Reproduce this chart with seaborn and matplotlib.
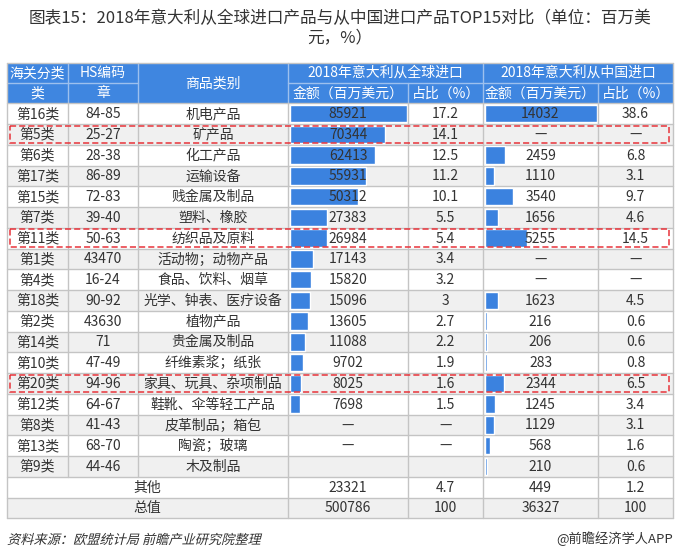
import numpy as np
import pandas as pd
import matplotlib
matplotlib.use("Agg")
import matplotlib.pyplot as plt
from matplotlib.patches import Rectangle, PathPatch
from matplotlib.textpath import TextPath
from matplotlib.font_manager import FontProperties
from matplotlib.transforms import Affine2D, IdentityTransform
import seaborn as sns

sns.set_theme(style="white")
plt.rcParams["font.family"] = ["Noto Sans CJK SC", "DejaVu Sans"]

sections = ["第16类", "第5类", "第6类", "第17类", "第15类", "第7类", "第11类", "第1类", "第4类",
            "第18类", "第2类", "第14类", "第10类", "第20类", "第12类", "第8类", "第13类", "第9类"]
hs_codes = ["84-85", "25-27", "28-38", "86-89", "72-83", "39-40", "50-63", "43470", "16-24",
            "90-92", "43630", "71", "47-49", "94-96", "64-67", "41-43", "68-70", "44-46"]
products = ["机电产品", "矿产品", "化工产品", "运输设备", "贱金属及制品", "塑料、橡胶", "纺织品及原料",
            "活动物；动物产品", "食品、饮料、烟草", "光学、钟表、医疗设备", "植物产品", "贵金属及制品",
            "纤维素浆；纸张", "家具、玩具、杂项制品", "鞋靴、伞等轻工产品", "皮革制品；箱包", "陶瓷；玻璃", "木及制品"]
world_value = [85921, 70344, 62413, 55931, 50312, 27383, 26984, 17143, 15820,
               15096, 13605, 11088, 9702, 8025, 7698, np.nan, np.nan, np.nan]
world_share = ["17.2", "14.1", "12.5", "11.2", "10.1", "5.5", "5.4", "3.4", "3.2",
               "3", "2.7", "2.2", "1.9", "1.6", "1.5", "—", "—", ""]
world_value_text = ["85921", "70344", "62413", "55931", "50312", "27383", "26984", "17143", "15820",
                    "15096", "13605", "11088", "9702", "8025", "7698", "—", "—", ""]
china_value = [14032, np.nan, 2459, 1110, 3540, 1656, 5255, np.nan, np.nan,
               1623, 216, 206, 283, 2344, 1245, 1129, 568, 210]
china_value_text = ["14032", "—", "2459", "1110", "3540", "1656", "5255", "—", "—",
                    "1623", "216", "206", "283", "2344", "1245", "1129", "568", "210"]
china_share = ["38.6", "—", "6.8", "3.1", "9.7", "4.6", "14.5", "—", "—",
               "4.5", "0.6", "0.6", "0.8", "6.5", "3.4", "3.1", "1.6", "0.6"]
other_row = ["其他", "23321", "4.7", "449", "1.2"]
total_row = ["总值", "500786", "100", "36327", "100"]
highlight = ["第5类", "第11类", "第20类"]

# ---- layout (pixel grid) ----
W, H = 680, 560
col_x = [7, 68, 138, 288, 408, 483, 598, 673]
head_top, head_mid, data_top = 62.7, 83.3, 103.3
row_h = 20.75
n_rows = len(sections) + 2
table_bottom = data_top + n_rows * row_h

blue = "#3F86E0"
bar_blue = "#3B82DF"
grid = "#C4C4C4"
txt = "#333333"
fs = 10

fig = plt.figure(figsize=(W / 100, H / 100), dpi=100)

bg = fig.add_axes([0, 0, 1, 1], zorder=0)
bg.set_xlim(0, W)
bg.set_ylim(H, 0)
bg.axis("off")

# header background
bg.add_patch(Rectangle((col_x[0], head_top), col_x[-1] - col_x[0], data_top - head_top,
                       facecolor=blue, edgecolor="none"))
# row stripes
for i in range(n_rows):
    y0 = data_top + i * row_h
    fc = "#FFFFFF" if i % 2 == 0 else "#F0F0F0"
    bg.add_patch(Rectangle((col_x[0], y0), col_x[-1] - col_x[0], row_h, facecolor=fc, edgecolor="none"))

# header lines
hl = "#9DC0EE"
bg.plot([col_x[0], col_x[2]], [head_mid, head_mid], color=hl, lw=1)
bg.plot([col_x[3], col_x[-1]], [head_mid, head_mid], color=hl, lw=1)
for cx in col_x[1:-1]:
    if cx in (col_x[4], col_x[6]):
        bg.plot([cx, cx], [head_mid, data_top], color=hl, lw=1)
    else:
        bg.plot([cx, cx], [head_top, data_top], color=hl, lw=1)

# body lines
for i in range(n_rows + 1):
    y = data_top + i * row_h
    bg.plot([col_x[0], col_x[-1]], [y, y], color=grid, lw=1)
for cx in col_x[1:3]:
    bg.plot([cx, cx], [data_top, data_top + len(sections) * row_h], color=grid, lw=1)
for cx in col_x[3:-1]:
    bg.plot([cx, cx], [data_top, table_bottom], color=grid, lw=1)
bg.plot([col_x[0], col_x[-1]], [head_top, head_top], color=grid, lw=1)
for cx in (col_x[0], col_x[-1]):
    bg.plot([cx, cx], [head_top, table_bottom], color=grid, lw=1)

# ---- data bars through seaborn ----
bars_df = pd.DataFrame({"section": sections, "world": world_value, "china": china_value})
body_bottom = data_top + len(sections) * row_h


def bar_axes(x0, x1, col, vmax):
    a = fig.add_axes([x0 / W, 1 - body_bottom / H, (x1 - x0) / W, (body_bottom - data_top) / H], zorder=1)
    sub = bars_df.dropna(subset=[col])
    sns.barplot(data=sub, x=col, y="section", order=sections, orient="h",
                color=bar_blue, saturation=1, width=0.84, ax=a)
    a.set_xlim(0, vmax)
    a.set_ylim(len(sections) - 0.5, -0.5)
    a.axis("off")
    a.patch.set_alpha(0)
    return a


bar_axes(290, 406.5, "world", bars_df["world"].max())
bar_axes(485, 596.5, "china", bars_df["china"].max())

# ---- text overlay ----
top = fig.add_axes([0, 0, 1, 1], zorder=2)
top.set_xlim(0, W)
top.set_ylim(H, 0)
top.axis("off")
top.patch.set_alpha(0)


def cx(a, b):
    return (col_x[a] + col_x[b]) / 2


# title
top.text(W / 2, 19, "图表15：2018年意大利从全球进口产品与从中国进口产品TOP15对比（单位：百万美",
         ha="center", va="center", fontsize=12, color=txt)
top.text(W / 2, 38, "元，%）", ha="center", va="center", fontsize=12, color=txt)

# header text
r1 = (head_top + head_mid) / 2
r2 = (head_mid + data_top) / 2
hkw = dict(ha="center", va="center", fontsize=fs, color="white")
top.text(cx(0, 1), r1, "海关分类", **hkw)
top.text(cx(0, 1), r2, "类", **hkw)
top.text(cx(1, 2), r1, "HS编码", **hkw)
top.text(cx(1, 2), r2, "章", **hkw)
top.text(cx(2, 3), (head_top + data_top) / 2, "商品类别", **hkw)
top.text(cx(3, 5), r1, "2018年意大利从全球进口", **hkw)
top.text(cx(5, 7), r1, "2018年意大利从中国进口", **hkw)
top.text(cx(3, 4), r2, "金额（百万美元）", **hkw)
top.text(cx(4, 5), r2, "占比（%）", **hkw)
top.text(cx(5, 6), r2, "金额（百万美元）", **hkw)
top.text(cx(6, 7), r2, "占比（%）", **hkw)

# body text
bkw = dict(ha="center", va="center", fontsize=fs, color=txt)
for i in range(len(sections)):
    yc = data_top + (i + 0.5) * row_h + 0.5
    top.text(cx(0, 1), yc, sections[i], **bkw)
    top.text(cx(1, 2), yc, hs_codes[i], **bkw)
    top.text(cx(2, 3), yc, products[i], **bkw)
    top.text(cx(3, 4), yc, world_value_text[i], **bkw)
    top.text(cx(4, 5), yc, world_share[i], **bkw)
    top.text(cx(5, 6), yc, china_value_text[i], **bkw)
    top.text(cx(6, 7), yc, china_share[i], **bkw)

for k, row in enumerate([other_row, total_row]):
    yc = data_top + (len(sections) + k + 0.5) * row_h + 0.5
    top.text(cx(0, 3), yc, row[0], **bkw)
    top.text(cx(3, 4), yc, row[1], **bkw)
    top.text(cx(4, 5), yc, row[2], **bkw)
    top.text(cx(5, 6), yc, row[3], **bkw)
    top.text(cx(6, 7), yc, row[4], **bkw)

# red dashed highlight boxes
for name in highlight:
    i = sections.index(name)
    y0 = data_top + i * row_h
    top.add_patch(Rectangle((9.5, y0 + 1.5), 669 - 9.5, row_h - 3.5, facecolor="none",
                            edgecolor="#E8333A", lw=1.1, linestyle=(0, (4, 2))))

# footer: source line in slanted (faux italic) CJK text
src = TextPath((0, 0), "资料来源：欧盟统计局 前瞻产业研究院整理",
               size=9.5, prop=FontProperties(family="Noto Sans CJK SC"))
src_tr = Affine2D().skew_deg(14, 0).scale(100 / 72).translate(7, H - 544) + IdentityTransform()
fig.patches.append(PathPatch(src, transform=src_tr, facecolor=txt, edgecolor="none", zorder=5))
top.text(673, 539, "@前瞻经济学人APP", ha="right", va="center", fontsize=9.5, color=txt)

fig.savefig("out.png", dpi=100)
plt.close(fig)
